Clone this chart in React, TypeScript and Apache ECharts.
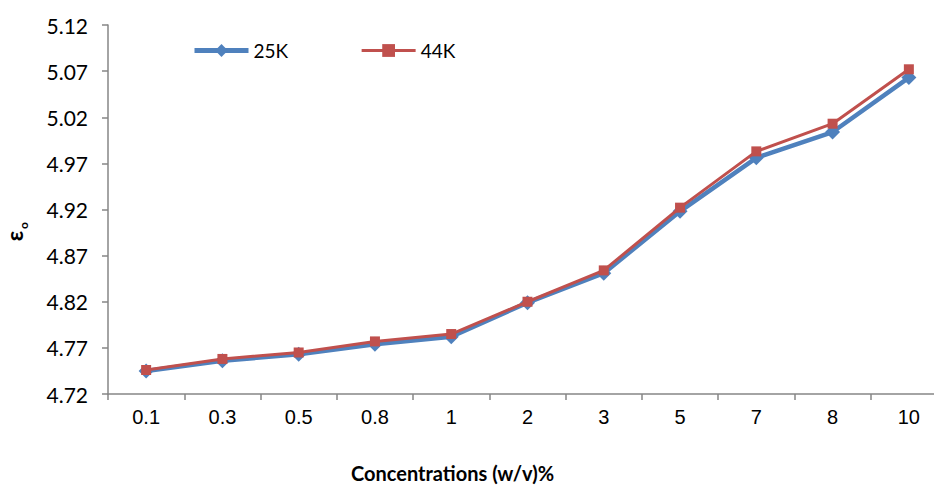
import React, { useEffect, useRef } from "react";
import * as echarts from "echarts";

const categories = ["0.1", "0.3", "0.5", "0.8", "1", "2", "3", "5", "7", "8", "10"];
const series25K = [4.745, 4.756, 4.763, 4.774, 4.782, 4.819, 4.851, 4.918, 4.976, 5.004, 5.063];
const series44K = [4.746, 4.758, 4.765, 4.777, 4.785, 4.820, 4.854, 4.922, 4.983, 5.013, 5.072];
const yBase = 4.72;
const yTop = 5.12;
const yStep = 0.05;

export default function App() {
  const ref = useRef<HTMLDivElement>(null);
  useEffect(() => {
    if (!ref.current) return;
    const chart = echarts.init(ref.current, undefined, { renderer: "svg" });
    const axisColor = "#868686";
    chart.setOption({
      animation: false,
      backgroundColor: "#ffffff",
      grid: {
        left: 108,
        top: 25,
        height: 369,
        width: 839,
        containLabel: false,
        outerBoundsMode: "none",
      },
      legend: {
        left: 192,
        top: 41,
        padding: 0,
        itemWidth: 54,
        itemHeight: 16,
        itemGap: 72,
        textStyle: { fontFamily: "Lato", fontSize: 19, color: "#000" },
        data: [
          { name: "25K", lineStyle: { width: 5 } },
          { name: "44K", lineStyle: { width: 3 } },
        ],
      },
      xAxis: {
        type: "category",
        data: categories,
        boundaryGap: true,
        axisLine: { lineStyle: { color: axisColor, width: 1.5 } },
        axisTick: { show: true, length: 6, lineStyle: { color: axisColor, width: 1.5 } },
        axisLabel: { fontFamily: "Liberation Sans", fontSize: 20, color: "#000", margin: 13 },
        splitLine: { show: false },
      },
      yAxis: {
        type: "value",
        min: 0,
        max: +(yTop - yBase).toFixed(2),
        interval: yStep,
        axisLine: { show: true, lineStyle: { color: axisColor, width: 1.5 } },
        axisTick: { show: true, length: 6, lineStyle: { color: axisColor, width: 1.5 } },
        axisLabel: {
          fontFamily: "Lato",
          fontSize: 21,
          color: "#000",
          margin: 20,
          formatter: (v: number) => (v + yBase).toFixed(2),
        },
        splitLine: { show: false },
      },
      graphic: [
        {
          type: "text",
          left: 351,
          top: 463,
          style: {
            text: "Concentrations (w/v)%",
            fontFamily: "Lato",
            fontWeight: "bold",
            fontSize: 20,
            fill: "#000",
          },
        },
        {
          type: "text",
          x: 14,
          y: 236,
          rotation: Math.PI / 2,
          style: {
            text: "ε",
            align: "center",
            verticalAlign: "middle",
            fontFamily: "Lato",
            fontWeight: "bold",
            fontSize: 23,
            fill: "#000",
          },
        },
        {
          type: "text",
          x: 23,
          y: 225.5,
          rotation: Math.PI / 2,
          style: {
            text: "o",
            align: "center",
            verticalAlign: "middle",
            fontFamily: "Lato",
            fontWeight: "bold",
            fontSize: 12,
            fill: "#000",
          },
        },
      ],
      series: [
        {
          name: "25K",
          type: "line",
          data: series25K.map((v) => v - yBase),
          symbol: "diamond",
          symbolSize: 15,
          lineStyle: { color: "#4F81BD", width: 4.5 },
          itemStyle: { color: "#4F81BD" },
          z: 2,
        },
        {
          name: "44K",
          type: "line",
          data: series44K.map((v) => v - yBase),
          symbol: "rect",
          symbolSize: 10,
          lineStyle: { color: "#C0504D", width: 3 },
          itemStyle: { color: "#C0504D" },
          z: 3,
        },
      ],
    });
    return () => chart.dispose();
  }, []);
  return (
    <div
      ref={ref}
      style={{ position: "absolute", left: 0, top: 0, width: 934, height: 486 }}
    />
  );
}
